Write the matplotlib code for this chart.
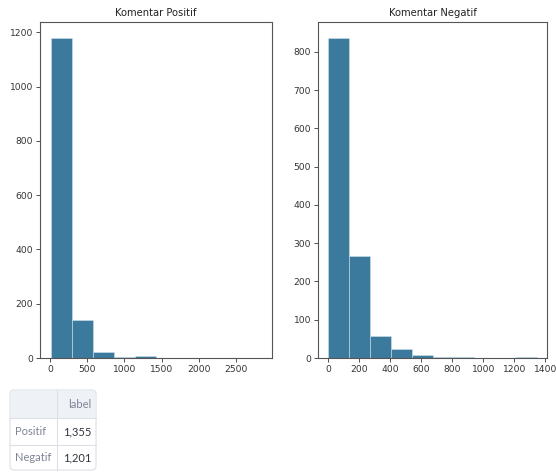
import numpy as np
import matplotlib
matplotlib.use("Agg")
import matplotlib.pyplot as plt
from matplotlib.patches import FancyBboxPatch, Rectangle
from matplotlib.lines import Line2D

# histogram counts (10 bins each)
pos_counts = [1179, 141, 21, 5, 7, 1, 0, 0, 0, 1]
pos_min, pos_max = 8, 2843
neg_counts = [836, 266, 58, 23, 8, 3, 3, 1, 0, 3]
neg_min, neg_max = 3, 1343

titles = ["Komentar Positif", "Komentar Negatif"]

# summary table under the charts
table_index = ["Positif", "Negatif"]
table_header = "label"
table_values = [1355, 1201]

W, H = 556, 472
bar_color = "#3b7a9c"
edge_color = "#cfe1ec"

fig = plt.figure(figsize=(W / 100, H / 100), dpi=100)


def px_axes(x0, x1, ytop, ybot):
    return fig.add_axes([x0 / W, 1 - ybot / H, (x1 - x0) / W, (ybot - ytop) / H])


def draw_hist(ax, counts, lo, hi, title):
    edges = np.linspace(lo, hi, len(counts) + 1)
    ax.hist(edges[:-1], bins=edges, weights=counts, color=bar_color,
            edgecolor=edge_color, linewidth=0.4)
    ax.set_title(title, fontsize=7.2, color="#222222", pad=4)
    ax.tick_params(labelsize=6.6, length=3, width=0.6, colors="#333333", pad=2)
    for s in ax.spines.values():
        s.set_color("#555555")
        s.set_linewidth(0.8)


ax1 = px_axes(40, 272, 22, 358)
draw_hist(ax1, pos_counts, pos_min, pos_max, titles[0])
ax1.set_xticks([0, 500, 1000, 1500, 2000, 2500])
ax1.set_yticks([0, 200, 400, 600, 800, 1000, 1200])

ax2 = px_axes(318, 547, 22, 358)
draw_hist(ax2, neg_counts, neg_min, neg_max, titles[1])
ax2.set_xticks([0, 200, 400, 600, 800, 1000, 1200, 1400])
ax2.set_yticks([0, 100, 200, 300, 400, 500, 600, 700, 800])

# ---- table ----
tfont = ["Lato", "DejaVu Sans"]
border = "#dcdfe5"
tx0, tx1, ty0, ty1 = 10, 96, 390, 470
col_x = 57
row_y = [418, 445]


def fx(x):
    return x / W


def fy(y):
    return 1 - y / H


box = FancyBboxPatch((fx(tx0), fy(ty1)), fx(tx1 - tx0), (ty1 - ty0) / H,
                     boxstyle="round,pad=0,rounding_size=0.008",
                     transform=fig.transFigure, facecolor="white",
                     edgecolor=border, linewidth=0.8)
fig.patches.append(box)
hdr = Rectangle((fx(tx0 + 1), fy(row_y[0])), fx(tx1 - tx0 - 2), (row_y[0] - ty0 - 1) / H,
                transform=fig.transFigure, facecolor="#eef1f6", edgecolor="none")
fig.patches.append(hdr)
for y in row_y:
    fig.add_artist(Line2D([fx(tx0), fx(tx1)], [fy(y), fy(y)], color=border, lw=0.8))
fig.add_artist(Line2D([fx(col_x), fx(col_x)], [fy(ty0), fy(ty1)], color=border, lw=0.8))

fig.text(fx(tx1 - 5), fy((ty0 + row_y[0]) / 2), table_header, ha="right", va="center",
         fontsize=8, color="#808495", family=tfont)
row_bounds = row_y + [ty1]
for i, (name, val) in enumerate(zip(table_index, table_values)):
    yc = (row_bounds[i] + row_bounds[i + 1]) / 2
    fig.text(fx(tx0 + 5), fy(yc), name, ha="left", va="center",
             fontsize=8, color="#808495", family=tfont)
    fig.text(fx(tx1 - 5), fy(yc), f"{val:,}", ha="right", va="center",
             fontsize=8, color="#31333f", family=tfont)

fig.savefig("out.png", dpi=100)
